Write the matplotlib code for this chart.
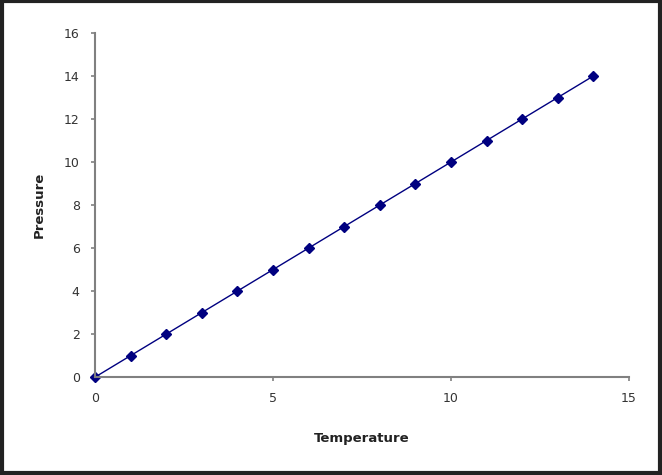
import matplotlib
matplotlib.use('Agg')
import matplotlib.pyplot as plt
import matplotlib.patches as mpatches

# data
temperature = [0, 1, 2, 3, 4, 5, 6, 7, 8, 9, 10, 11, 12, 13, 14]
pressure = [0, 1, 2, 3, 4, 5, 6, 7, 8, 9, 10, 11, 12, 13, 14]
x_ticks = [0, 5, 10, 15]
y_ticks = [0, 2, 4, 6, 8, 10, 12, 14, 16]

fig = plt.figure(figsize=(6.62, 4.75), dpi=100)
ax = fig.add_axes([0.1435, 0.206, 0.8065, 0.7245])

ax.plot(temperature, pressure, color='#000080', linewidth=1,
        marker='D', markersize=5, clip_on=False)

ax.set_xlim(0, 15)
ax.set_ylim(0, 16)
ax.set_xticks(x_ticks)
ax.set_yticks(y_ticks)

for side in ['top', 'right']:
    ax.spines[side].set_visible(False)
for side in ['left', 'bottom']:
    ax.spines[side].set_color('#808080')
    ax.spines[side].set_linewidth(1.5)
ax.tick_params(colors='#808080', labelcolor='#333333', labelsize=9, length=3, width=1.2, pad=8)

ax.set_xlabel('Temperature', fontsize=9.5, fontweight='bold', color='#222222', labelpad=19)
ax.set_ylabel('Pressure', fontsize=9.5, fontweight='bold', color='#222222', labelpad=13)

# rand rondom de figuur
fig.patches.append(mpatches.Rectangle((0.003, 0.004), 0.994, 0.994, transform=fig.transFigure,
                                      fill=False, edgecolor='#222222', linewidth=3))

fig.savefig('out.png', dpi=100)
